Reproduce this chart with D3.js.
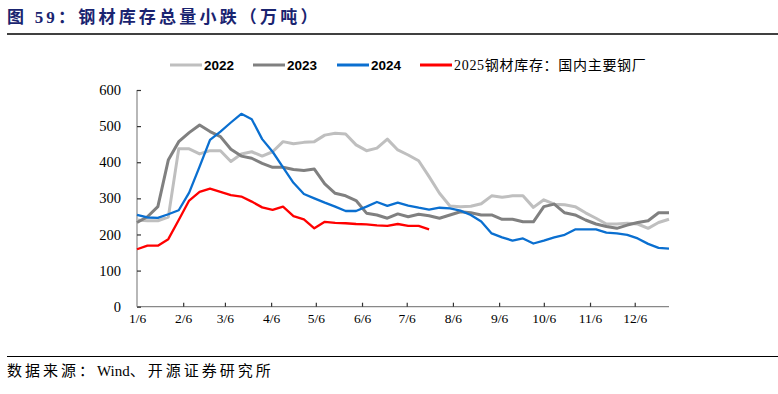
<!DOCTYPE html>
<html>
<head>
<meta charset="utf-8">
<script src="https://cdn.jsdelivr.net/npm/d3@7"></script>
<style>
body{margin:0;background:#fff;}
</style>
</head>
<body>
<div class="graph"></div>
<script>
// weekly points, week 0 = 1/6
var tickLabels=["1/6","2/6","3/6","4/6","5/6","6/6","7/6","8/6","9/6","10/6","11/6","12/6"];
var yTicks=[0,100,200,300,400,500,600];

var seriesNames=["2022","2023","2024","2025钢材库存：国内主要钢厂"];

var v2022=[240,238,238,248,437,437,423,432,432,402,423,429,417,429,457,451,455,457,475,480,478,448,432,439,464,434,420,404,360,314,279,277,278,285,307,303,307,307,275,296,284,282,277,260,245,229,229,231,229,217,233,242];
var v2023=[233,249,277,406,457,482,503,485,471,436,417,411,397,386,386,380,377,381,340,314,307,294,259,254,245,257,249,256,252,245,254,263,260,254,254,242,242,235,235,277,284,260,254,240,229,222,217,226,233,238,260,260];
var v2024=[254,247,246,256,267,316,388,462,485,510,534,519,464,429,386,343,312,300,288,277,265,265,277,290,279,288,280,274,269,274,272,266,254,236,203,192,183,189,175,183,192,199,214,214,214,205,203,199,189,174,163,161];
var v2025=[159,169,169,187,240,294,318,327,318,309,305,291,275,268,277,251,242,217,235,232,231,229,228,225,224,229,224,224,214];

const width=778;
const height=394;
const plotLeft=137, plotRight=669, plotTop=90, plotBottom=306.7;

var colors=["#bfbfbf","#808080","#0a6fd0","#ff0000"];
var widths=[3,3,2.3,2.3];

var parse=d3.timeParse("%Y/%m/%d");
var start=parse("2025/1/6");
function weekDate(i){ return d3.timeDay.offset(start,i*7); }

var svg=d3.select(".graph")
    .append("svg")
    .attr("width",width)
    .attr("height",height);

// title
svg.append("text")
    .attr("x",7)
    .attr("y",23)
    .attr("fill","#1a2470")
    .style("font-family","'Liberation Serif','Noto Sans CJK SC'")
    .style("font-weight","bold")
    .style("font-size","17px")
    .style("letter-spacing","3.2px")
    .text("图 59：钢材库存总量小跌（万吨）");

svg.append("line")
    .attr("x1",7).attr("x2",width)
    .attr("y1",34).attr("y2",34)
    .attr("stroke","#000").attr("stroke-width",1.5);

svg.append("line")
    .attr("x1",7).attr("x2",width)
    .attr("y1",356.5).attr("y2",356.5)
    .attr("stroke","#000").attr("stroke-width",1.2);

var source=svg.append("text")
    .attr("x",7)
    .attr("y",376)
    .attr("fill","#000")
    .style("font-family","'Liberation Serif','Noto Sans CJK SC'")
    .style("font-size","15px");
source.append("tspan").style("letter-spacing","3px").text("数据来源：");
source.append("tspan").style("letter-spacing","0px").text("Wind");
source.append("tspan").style("letter-spacing","3px").text("、开源证券研究所");

// scales
scaleX=d3.scaleTime()
    .domain([weekDate(0),weekDate(51)])
    .range([plotLeft,plotRight]);

scaleY=d3.scaleLinear()
    .domain([0,600])
    .range([plotBottom,plotTop]);

var tickDates=tickLabels.map(function(t){ return parse("2025/"+t); });

const xAxis=d3.axisBottom(scaleX)
    .tickValues(tickDates)
    .tickSize(-4)
    .tickPadding(7)
    .tickFormat(function(d,i){ return tickLabels[i]; });

var gx=svg.append("g")
    .attr("transform","translate(0,"+plotBottom+")")
    .call(xAxis);
gx.select(".domain").attr("d","M"+plotLeft+",0H"+plotRight);

const yAxis=d3.axisLeft(scaleY)
    .tickValues(yTicks)
    .tickSize(-4)
    .tickPadding(16);

var gy=svg.append("g")
    .attr("transform","translate("+plotLeft+",0)")
    .call(yAxis);
gy.select(".domain").attr("d","M0,"+plotTop+"V"+plotBottom);

svg.selectAll(".domain,.tick line").attr("stroke","#888").attr("stroke-width",1.2);
gx.selectAll(".tick line").attr("stroke","#333");
gy.selectAll(".tick line").attr("stroke","#333");
svg.selectAll(".tick text")
    .attr("fill","#000")
    .style("font-family","'Liberation Serif'")
    .style("font-size","13.5px");
gy.selectAll(".tick text").style("font-size","14.5px");
gx.select(".tick").select("line").remove();

// lines
var allSeries=[v2022,v2023,v2024,v2025];
var line=d3.line()
    .x(function(d,i){ return scaleX(weekDate(i)); })
    .y(function(d){ return scaleY(d); });

svg.selectAll(".series")
    .data(allSeries)
    .enter()
    .append("path")
    .attr("class","series")
    .attr("fill","none")
    .attr("stroke",function(d,i){ return colors[i]; })
    .attr("stroke-width",function(d,i){ return widths[i]; })
    .attr("stroke-linejoin","round")
    .attr("d",line);

// legend
var legendX=[170,253,337,420];
var legend=svg.selectAll(".legend")
    .data(seriesNames)
    .enter()
    .append("g")
    .attr("class","legend")
    .attr("transform",function(d,i){ return "translate("+legendX[i]+",65)"; });

legend.append("line")
    .attr("x1",0).attr("x2",32)
    .attr("stroke",function(d,i){ return colors[i]; })
    .attr("stroke-width",3);

legend.append("text")
    .attr("x",34)
    .attr("y",5)
    .attr("fill","#000")
    .style("font-family",function(d,i){ return i<3 ? "'Liberation Sans'" : "'Liberation Serif','Noto Sans CJK SC'"; })
    .style("font-weight",function(d,i){ return i<3 ? "bold" : "normal"; })
    .style("font-size",function(d,i){ return i<3 ? "13.5px" : "14px"; })
    .style("letter-spacing",function(d,i){ return i<3 ? "0px" : "0.7px"; })
    .text(function(d){ return d; });
</script>
</body>
</html>
